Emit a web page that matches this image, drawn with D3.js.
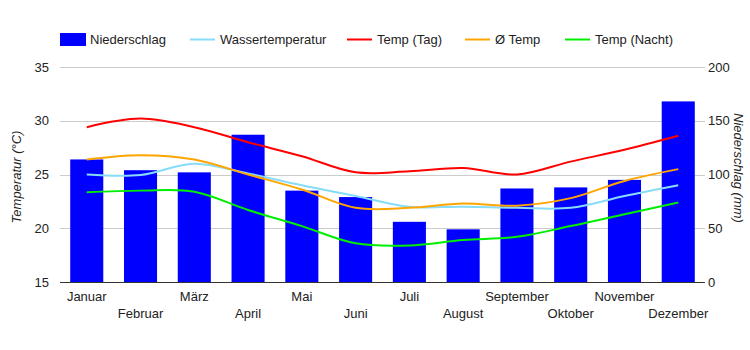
<!DOCTYPE html>
<html>
<head>
<meta charset="utf-8">
<script src="https://cdn.jsdelivr.net/npm/d3@7"></script>
<style>
  body { margin: 0; background: #fff; }
  text { font-family: Arial, "Liberation Sans", sans-serif; fill: #222; }
</style>
</head>
<body>
<script>
var months = ["Januar", "Februar", "März", "April", "Mai", "Juni", "Juli", "August", "September", "Oktober", "November", "Dezember"];
var niederschlag = [114, 104, 102, 137, 85, 79, 56, 49, 87, 88, 95, 168];
var wasser = [25.0, 24.95, 26.0, 25.1, 24.0, 23.0, 22.0, 22.0, 21.9, 21.9, 23.0, 24.0];
var tempTag = [29.4, 30.2, 29.4, 28.0, 26.7, 25.2, 25.3, 25.6, 25.0, 26.2, 27.3, 28.6];
var tempAvg = [26.4, 26.8, 26.4, 25.0, 23.6, 21.9, 21.9, 22.3, 22.1, 22.8, 24.4, 25.5];
var tempNacht = [23.35, 23.5, 23.4, 21.7, 20.2, 18.6, 18.4, 18.9, 19.2, 20.2, 21.3, 22.4];
var tempTicks = [15, 20, 25, 30, 35];
var rainTicks = [0, 50, 100, 150, 200];

var w = 750, h = 350;
var pLeft = 60, pRight = 705, pTop = 67, pBottom = 282;

var svg = d3.select("body").append("svg")
    .attr("width", w)
    .attr("height", h);

var x = d3.scaleBand().domain(months).range([pLeft, pRight]).paddingInner(0.385).paddingOuter(0.19);
var xc = function(i) { return x(months[i]) + x.bandwidth() / 2; };
var yT = d3.scaleLinear().domain([15, 35]).range([pBottom, pTop]);
var yR = d3.scaleLinear().domain([0, 200]).range([pBottom, pTop]);

// gridlines
svg.append("g").selectAll("line")
    .data(tempTicks.slice(1))
    .enter().append("line")
    .attr("x1", pLeft).attr("x2", pRight)
    .attr("y1", function(d) { return Math.round(yT(d)) + 0.5; })
    .attr("y2", function(d) { return Math.round(yT(d)) + 0.5; })
    .attr("stroke", "#cccccc");

// left axis labels
svg.append("g").selectAll("text")
    .data(tempTicks)
    .enter().append("text")
    .attr("x", 49)
    .attr("y", function(d) { return yT(d) + 4.5; })
    .attr("text-anchor", "end")
    .attr("font-size", "13px")
    .attr("fill", "#444")
    .text(function(d) { return d; });

// right axis labels
svg.append("g").selectAll("text")
    .data(rainTicks)
    .enter().append("text")
    .attr("x", 708)
    .attr("y", function(d) { return yR(d) + 4.5; })
    .attr("font-size", "13px")
    .attr("fill", "#444")
    .text(function(d) { return d; });

// bars
svg.append("g").selectAll("rect")
    .data(niederschlag)
    .enter().append("rect")
    .attr("x", function(d, i) { return x(months[i]); })
    .attr("width", x.bandwidth())
    .attr("y", function(d) { return yR(d); })
    .attr("height", function(d) { return pBottom - yR(d); })
    .attr("fill", "#0000ff");

// baseline
svg.append("line")
    .attr("x1", pLeft).attr("x2", pRight)
    .attr("y1", pBottom + 0.5).attr("y2", pBottom + 0.5)
    .attr("stroke", "#333");

// lines
var line = d3.line()
    .x(function(d, i) { return xc(i); })
    .y(function(d) { return yT(d); })
    .curve(d3.curveCatmullRom.alpha(0.5));

var series = [
    { name: "Wassertemperatur", data: wasser, color: "#87dcfa" },
    { name: "Temp (Tag)", data: tempTag, color: "#ff0000" },
    { name: "Ø Temp", data: tempAvg, color: "#ffa500" },
    { name: "Temp (Nacht)", data: tempNacht, color: "#00ee00" }
];

svg.append("g").selectAll("path")
    .data(series)
    .enter().append("path")
    .attr("d", function(d) { return line(d.data); })
    .attr("fill", "none")
    .attr("stroke", function(d) { return d.color; })
    .attr("stroke-width", 2);

// x labels, two rows
svg.append("g").selectAll("text")
    .data(months)
    .enter().append("text")
    .attr("x", function(d, i) { return xc(i); })
    .attr("y", function(d, i) { return i % 2 == 0 ? 301 : 318; })
    .attr("text-anchor", "middle")
    .attr("font-size", "13px")
    .text(function(d) { return d; });

// axis titles
svg.append("text")
    .attr("transform", "translate(21,177) rotate(-90)")
    .attr("text-anchor", "middle")
    .attr("font-size", "13px")
    .attr("font-style", "italic")
    .text("Temperatur (°C)");

svg.append("text")
    .attr("transform", "translate(734,168) rotate(90)")
    .attr("text-anchor", "middle")
    .attr("font-size", "13px")
    .attr("font-style", "italic")
    .text("Niederschlag (mm)");

// legend
var lg = svg.append("g");
lg.append("rect").attr("x", 60).attr("y", 33).attr("width", 26).attr("height", 13).attr("fill", "#0000ff");
lg.append("text").attr("x", 90).attr("y", 44).attr("font-size", "13px").text("Niederschlag");
var legX = [190, 347, 465, 565];
series.forEach(function(s, i) {
    lg.append("line")
        .attr("x1", legX[i]).attr("x2", legX[i] + 25)
        .attr("y1", 39.5).attr("y2", 39.5)
        .attr("stroke", s.color).attr("stroke-width", 2);
    lg.append("text")
        .attr("x", legX[i] + 30).attr("y", 44)
        .attr("font-size", "13px")
        .text(s.name);
});
</script>
</body>
</html>
